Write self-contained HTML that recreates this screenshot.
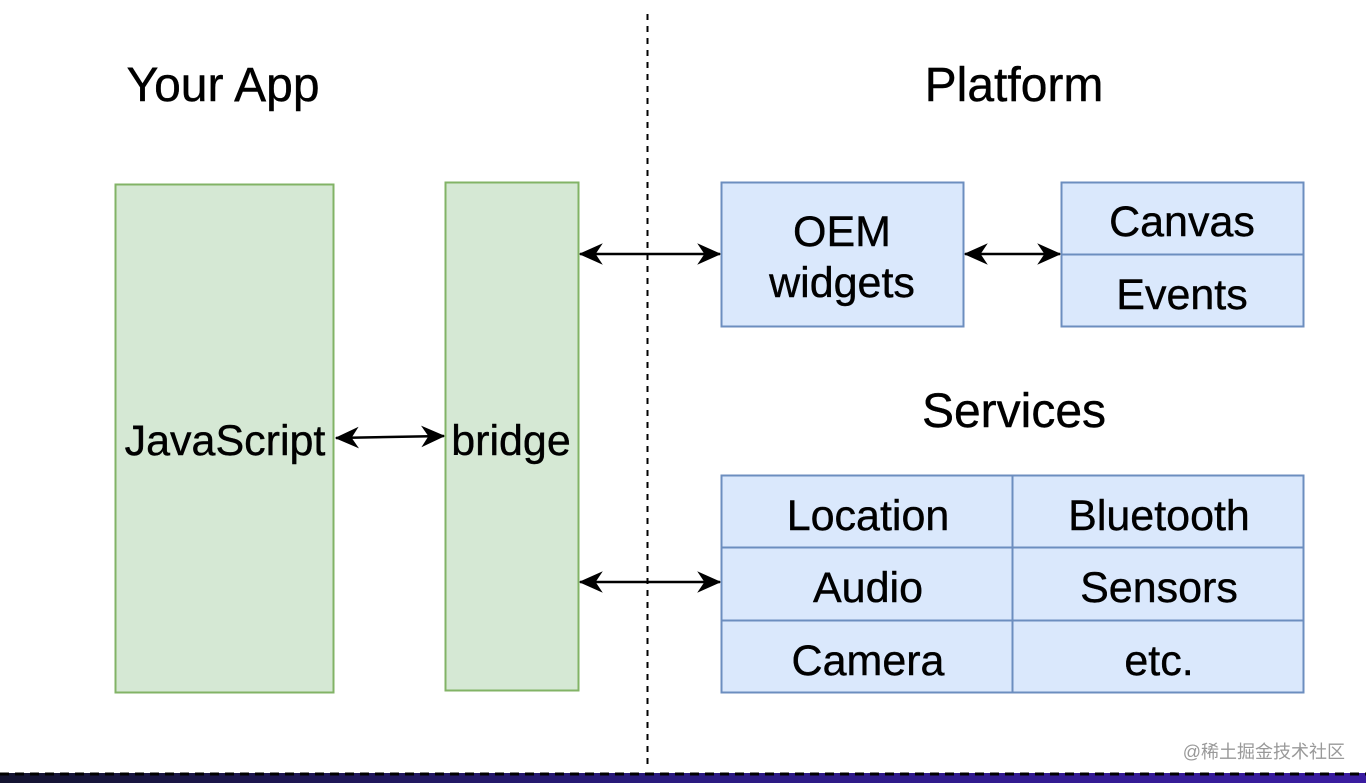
<!DOCTYPE html>
<html><head><meta charset="utf-8"><style>
html,body{margin:0;padding:0;background:#fff;}
svg{display:block;}
text{font-family:"Liberation Sans",Arial,sans-serif;fill:#000;stroke:#000;stroke-width:0.4;}
</style></head><body>
<svg width="1366" height="783" viewBox="0 0 1366 783" xmlns="http://www.w3.org/2000/svg">
<defs>
<marker id="a" viewBox="0 0 20 20" refX="19" refY="10" markerWidth="24" markerHeight="24" markerUnits="userSpaceOnUse" orient="auto-start-reverse">
<path d="M0,1 L20,10 L0,19 L6,10 Z" fill="#000"/>
</marker>
<linearGradient id="g" x1="0" x2="1"><stop offset="0" stop-color="#141430"/><stop offset="0.5" stop-color="#2a1a80"/><stop offset="1" stop-color="#3a1ca0"/></linearGradient>
</defs>
<rect width="1366" height="783" fill="#fff"/>
<line x1="647.5" y1="14" x2="647.5" y2="770" stroke="#000" stroke-width="2" stroke-dasharray="6,6"/>
<text x="223" y="101" font-size="48" text-anchor="middle">Your App</text>
<text x="1014" y="101" font-size="48" text-anchor="middle">Platform</text>
<text x="1014" y="427" font-size="48" text-anchor="middle">Services</text>
<rect x="115.5" y="184.5" width="218" height="508" fill="#d5e8d4" stroke="#82b366" stroke-width="2"/>
<rect x="445.5" y="182.5" width="133" height="508" fill="#d5e8d4" stroke="#82b366" stroke-width="2"/>
<text x="225" y="455" font-size="43" text-anchor="middle">JavaScript</text>
<text x="511" y="455" font-size="43" text-anchor="middle">bridge</text>
<rect x="721.5" y="182.5" width="242" height="144" fill="#dae8fc" stroke="#6c8ebf" stroke-width="2"/>
<text x="842" y="246" font-size="43" text-anchor="middle">OEM</text>
<text x="842" y="297" font-size="43" text-anchor="middle">widgets</text>
<rect x="1061.5" y="182.5" width="242" height="144" fill="#dae8fc" stroke="#6c8ebf" stroke-width="2"/>
<line x1="1061" y1="254.5" x2="1304" y2="254.5" stroke="#6c8ebf" stroke-width="2"/>
<text x="1182" y="236" font-size="43" text-anchor="middle">Canvas</text>
<text x="1182" y="309" font-size="43" text-anchor="middle">Events</text>
<rect x="721.5" y="475.5" width="582" height="217" fill="#dae8fc" stroke="#6c8ebf" stroke-width="2"/>
<line x1="1012.5" y1="475" x2="1012.5" y2="693" stroke="#6c8ebf" stroke-width="2"/>
<line x1="721" y1="547.5" x2="1304" y2="547.5" stroke="#6c8ebf" stroke-width="2"/>
<line x1="721" y1="620.5" x2="1304" y2="620.5" stroke="#6c8ebf" stroke-width="2"/>
<text x="868" y="530" font-size="43" text-anchor="middle">Location</text>
<text x="1159" y="530" font-size="43" text-anchor="middle">Bluetooth</text>
<text x="868" y="602" font-size="43" text-anchor="middle">Audio</text>
<text x="1159" y="602" font-size="43" text-anchor="middle">Sensors</text>
<text x="868" y="675" font-size="43" text-anchor="middle">Camera</text>
<text x="1159" y="675" font-size="43" text-anchor="middle">etc.</text>
<line x1="336" y1="438" x2="444" y2="436" stroke="#000" stroke-width="2.5" marker-start="url(#a)" marker-end="url(#a)"/>
<line x1="580" y1="254" x2="720" y2="254" stroke="#000" stroke-width="2.5" marker-start="url(#a)" marker-end="url(#a)"/>
<line x1="965" y1="254" x2="1060" y2="254" stroke="#000" stroke-width="2.5" marker-start="url(#a)" marker-end="url(#a)"/>
<line x1="580" y1="582" x2="720" y2="582" stroke="#000" stroke-width="2.5" marker-start="url(#a)" marker-end="url(#a)"/>
<text x="1345" y="758" font-size="18" text-anchor="end" style="font-family:'Liberation Sans','Noto Sans CJK SC',sans-serif;fill:#999;stroke:none">@稀土掘金技术社区</text>
<rect x="0" y="773" width="1366" height="10" fill="url(#g)"/>
<line x1="0" y1="774" x2="1366" y2="774" stroke="#000" stroke-width="3" stroke-dasharray="9,6"/>
</svg>
</body></html>
